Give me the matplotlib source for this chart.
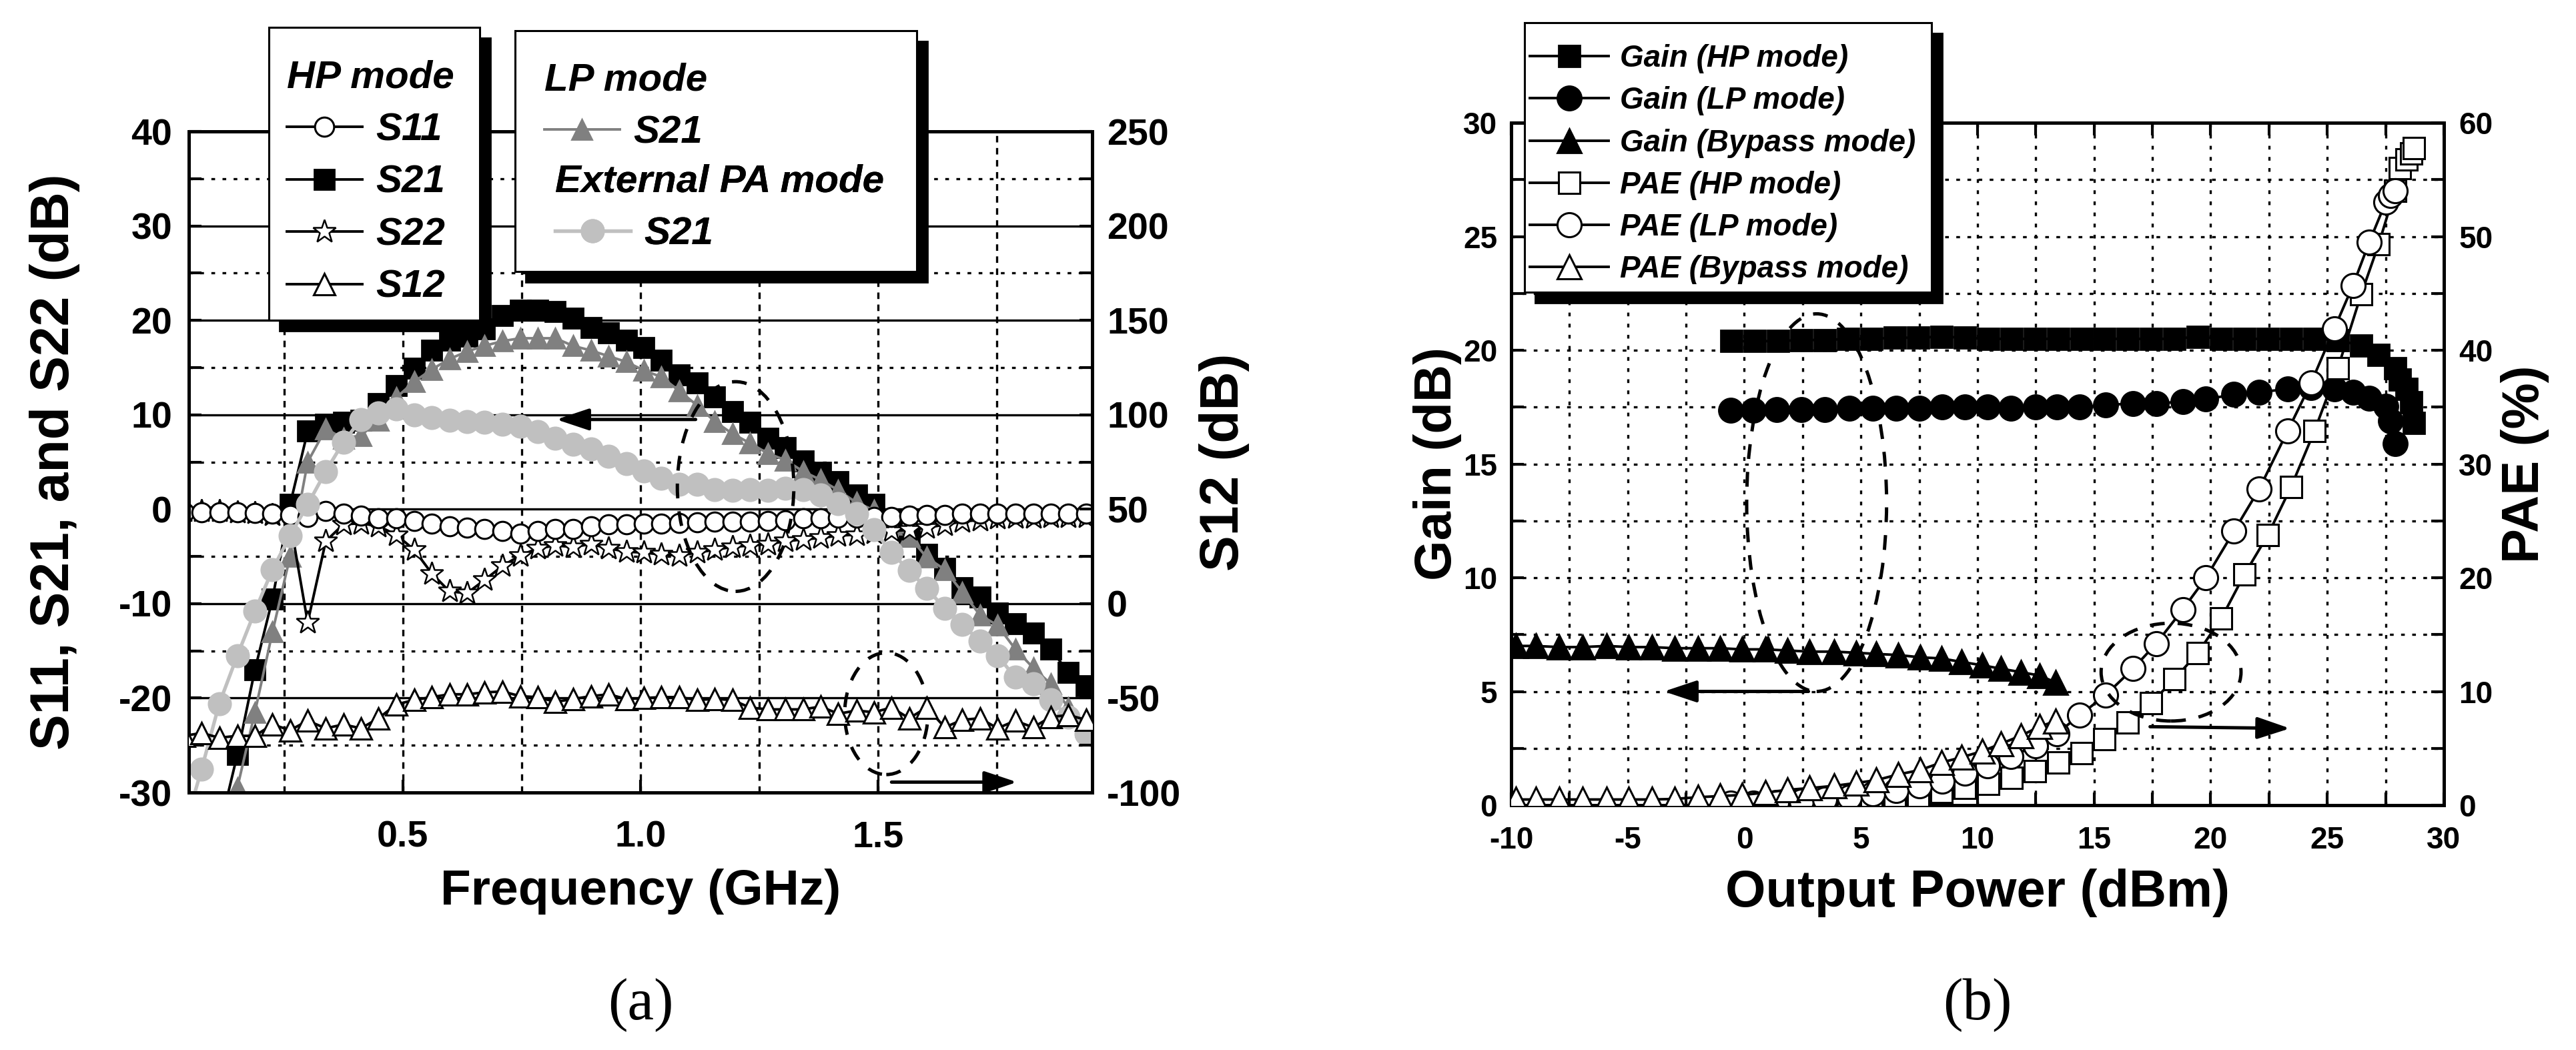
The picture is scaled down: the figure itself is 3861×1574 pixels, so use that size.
import matplotlib
matplotlib.use("Agg")
import matplotlib.pyplot as plt
from matplotlib.patches import Ellipse, Rectangle
from matplotlib.ticker import MultipleLocator, FormatStrFormatter
from matplotlib.font_manager import FontProperties

plt.rcParams['font.family'] = ['Liberation Sans', 'DejaVu Sans']
plt.rcParams['font.weight'] = 'bold'
plt.rcParams['axes.labelweight'] = 'bold'
plt.rcParams['axes.unicode_minus'] = False
plt.rcParams['lines.scale_dashes'] = False
plt.rcParams['axes.linewidth'] = 1.8

# ---------------- (a) S-parameters vs frequency ----------------
freq = [0.040, 0.077, 0.114, 0.152, 0.189, 0.226, 0.263, 0.300, 0.338, 0.375,
        0.412, 0.449, 0.486, 0.524, 0.561, 0.598, 0.635, 0.672, 0.710, 0.747,
        0.784, 0.821, 0.858, 0.896, 0.933, 0.970, 1.007, 1.044, 1.082, 1.119,
        1.156, 1.193, 1.230, 1.268, 1.305, 1.342, 1.379, 1.416, 1.454, 1.491,
        1.528, 1.565, 1.602, 1.640, 1.677, 1.714, 1.751, 1.788, 1.826, 1.863,
        1.900, 1.937]

# HP mode (dB, left axis)
hp_s11 = [-0.3, -0.3, -0.3, -0.3, -0.4, -0.5, -0.6, -0.8, -0.2, -0.5,
          -0.7, -1.0, -1.0, -1.25, -1.5, -1.8, -1.95, -2.1, -2.3, -2.6,
          -2.3, -2.1, -2.1, -1.8, -1.6, -1.6, -1.5, -1.5, -1.45, -1.4,
          -1.35, -1.3, -1.3, -1.25, -1.15, -1.0, -1.0, -0.9, -0.9, -0.8,
          -0.8, -0.7, -0.6, -0.6, -0.5, -0.5, -0.5, -0.5, -0.5, -0.5,
          -0.5, -0.5]
hp_s21 = [-42, -38, -34, -26, -17, -9.5, 0.5, 8.25, 9.0, 9.2,
          9.4, 11.2, 13.1, 14.9, 16.8, 17.9, 18.3, 19.1, 20.5, 21.1,
          21.1, 20.9, 20.2, 19.2, 18.7, 17.9, 17.1, 15.8, 14.2, 13.4,
          11.9, 10.3, 9.2, 7.5, 6.5, 5.1, 3.9, 2.9, 1.5, 0.5,
          -1.1, -2.9, -4.8, -6.3, -8.3, -9.3, -11.0, -12.1, -13.1, -14.8,
          -17.3, -18.7]
hp_s22 = [-0.2, -0.2, -0.2, -0.3, -0.4, -0.6, -1.2, -12.0, -3.4, -1.6,
          -1.5, -1.8, -2.7, -4.3, -6.8, -8.7, -8.9, -7.5, -6.0, -4.9,
          -4.15, -3.85, -4.0, -3.7, -4.15, -4.5, -4.6, -4.8, -4.9, -4.6,
          -4.3, -4.0, -3.85, -3.7, -3.4, -3.2, -3.05, -2.8, -2.7, -2.5,
          -2.3, -2.2, -1.95, -1.65, -1.3, -1.15, -1.0, -0.9, -0.9, -0.8,
          -0.8, -0.8]
# HP mode S12 (dB, right axis)
hp_s12 = [-70, -68.5, -71, -70, -70, -64, -67, -62, -66, -64,
          -66, -60.7, -53.4, -51, -49.5, -48, -48, -47, -46.5, -49,
          -49.5, -52, -50.5, -49, -48, -50.5, -50, -49.5, -49.5, -51,
          -50.5, -51, -55, -56, -56, -56, -54.5, -58.3, -56.6, -57.5,
          -55, -60.7, -55, -65.5, -61.5, -60.7, -66, -62, -65.5, -60,
          -59, -61.5]
# LP mode and external PA mode S21 (dB, left axis)
lp_s21 = [-45, -40, -37, -29.5, -21.5, -13, -5.0, 5.0, 8.5, 7.5,
          7.8, 9.4, 11.8, 13.5, 14.8, 15.9, 16.7, 17.3, 17.8, 18.1,
          18.1, 18.1, 17.3, 16.8, 16.2, 15.6, 14.7, 14.0, 12.5, 11.0,
          9.3, 8.0, 7.0, 5.9, 5.2, 4.0, 3.1, 2.0, 0.7, -0.1,
          -1.6, -2.9, -5.1, -6.4, -8.8, -11.2, -12.3, -14.8, -16.8, -18.5,
          -21.0, -23.0]
ext_s21 = [-34, -27.5, -20.6, -15.5, -10.8, -6.4, -2.8, 0.5, 4.0, 7.1,
           9.5, 10.2, 10.6, 10.0, 9.7, 9.4, 9.25, 9.2, 9.0, 8.8,
           8.2, 7.5, 6.9, 6.4, 5.6, 4.8, 4.05, 3.25, 2.6, 2.6,
           2.1, 2.0, 2.1, 2.0, 2.2, 2.1, 1.5, 0.6, -0.5, -2.2,
           -4.6, -6.5, -8.4, -10.5, -12.2, -14.0, -15.5, -17.8, -18.5, -20.2,
           -22.0, -23.8]

# ---------------- (b) Gain / PAE vs output power ----------------
hp_pout = [-0.55, 0.45, 1.45, 2.45, 3.45, 4.45, 5.45, 6.45, 7.45, 8.45,
           9.45, 10.45, 11.45, 12.45, 13.45, 14.45, 15.45, 16.45, 17.45, 18.45,
           19.45, 20.45, 21.45, 22.45, 23.45, 24.45, 25.45, 26.45, 27.2, 27.9,
           28.1, 28.4, 28.6, 28.7]
hp_gain = [20.4, 20.4, 20.4, 20.45, 20.45, 20.5, 20.5, 20.55, 20.55, 20.6,
           20.55, 20.5, 20.5, 20.5, 20.5, 20.5, 20.5, 20.5, 20.5, 20.5,
           20.6, 20.5, 20.5, 20.5, 20.5, 20.5, 20.45, 20.2, 19.8, 19.2,
           18.7, 18.3, 17.7, 16.8]
hp_pae = [0.15, 0.2, 0.25, 0.3, 0.35, 0.4, 0.5, 0.65, 0.85, 1.17,
          1.5, 1.9, 2.4, 3.0, 3.75, 4.6, 5.8, 7.3, 9.0, 11.1,
          13.4, 16.4, 20.3, 23.75, 28.0, 32.9, 38.4, 44.9, 49.3, 54.0,
          56.0, 56.8, 57.3, 57.8]

lp_pout = [-0.6, 0.4, 1.4, 2.45, 3.45, 4.5, 5.5, 6.5, 7.5, 8.47,
           9.46, 10.43, 11.43, 12.49, 13.4, 14.38, 15.5, 16.67, 17.66, 18.8,
           19.8, 21.0, 22.08, 23.3, 24.3, 25.3, 26.1, 26.8, 27.5, 27.7,
           27.9]
lp_gain = [17.35, 17.35, 17.4, 17.4, 17.4, 17.45, 17.45, 17.45, 17.45, 17.5,
           17.5, 17.5, 17.45, 17.5, 17.5, 17.5, 17.6, 17.65, 17.65, 17.75,
           17.85, 18.05, 18.15, 18.3, 18.35, 18.3, 18.15, 17.9, 17.55, 16.9,
           15.9]
lp_pae = [0.15, 0.2, 0.25, 0.35, 0.5, 0.7, 1.0, 1.3, 1.7, 2.1,
          2.8, 3.45, 4.3, 5.2, 6.3, 7.9, 9.7, 12.0, 14.2, 17.2,
          20.0, 24.1, 27.8, 32.9, 37.1, 41.9, 45.7, 49.5, 53.0, 53.6,
          54.0]

bp_pout = [-9.8, -8.95, -7.95, -6.95, -5.9, -4.95, -3.95, -3.0, -2.0, -1.05,
           -0.1, 0.9, 1.85, 2.8, 3.85, 4.8, 5.65, 6.6, 7.55, 8.45,
           9.3, 10.2, 11.0, 11.85, 12.65, 13.35]
bp_gain = [7.0, 7.0, 6.95, 6.95, 7.0, 6.95, 6.95, 6.9, 6.9, 6.9,
           6.85, 6.85, 6.8, 6.75, 6.75, 6.7, 6.65, 6.6, 6.5, 6.45,
           6.3, 6.15, 6.0, 5.85, 5.7, 5.4]
bp_pae = [0.5, 0.5, 0.5, 0.5, 0.5, 0.5, 0.5, 0.55, 0.7, 0.8,
          0.9, 1.1, 1.35, 1.5, 1.7, 1.95, 2.2, 2.7, 3.1, 3.75,
          4.2, 4.75, 5.4, 6.1, 6.9, 7.4]

GRAY = '#808080'
LIGHT = '#c0c0c0'

fig = plt.figure(figsize=(19.31, 7.87), dpi=200)

# ======================= panel (a) =======================
ax_a = fig.add_axes([0.07328, 0.24523, 0.35059, 0.62961])
ax_a2 = ax_a.twinx()

l_s21, = ax_a.plot(freq, hp_s21, color='k', lw=1.4, marker='s', ms=10.5,
                   mfc='k', mec='k', zorder=3)
l_lp, = ax_a.plot(freq, lp_s21, color=GRAY, lw=1.4, marker='^', ms=11,
                  mfc=GRAY, mec=GRAY, zorder=4)
l_s22, = ax_a.plot(freq, hp_s22, color='k', lw=1.4, marker='*', ms=13,
                   mfc='white', mec='k', mew=0.9, zorder=5)
l_s11, = ax_a.plot(freq, hp_s11, color='k', lw=1.4, marker='o', ms=10.3,
                   mfc='white', mec='k', mew=1.1, zorder=6)
l_ext, = ax_a.plot(freq, ext_s21, color=LIGHT, lw=1.9, marker='o', ms=12,
                   mfc=LIGHT, mec=LIGHT, zorder=7)
l_s12, = ax_a2.plot(freq, hp_s12, color='k', lw=1.4, marker='^', ms=11.5,
                    mfc='white', mec='k', mew=1.1, zorder=3)

ax_a.set_xlim(0.05, 1.95)
ax_a.set_ylim(-30, 40)
ax_a2.set_ylim(-100, 250)
ax_a.xaxis.set_major_locator(MultipleLocator(0.5))
ax_a.xaxis.set_minor_locator(MultipleLocator(0.25))
ax_a.xaxis.set_major_formatter(FormatStrFormatter('%.1f'))
ax_a.yaxis.set_major_locator(MultipleLocator(10))
ax_a.yaxis.set_minor_locator(MultipleLocator(5))
ax_a2.yaxis.set_major_locator(MultipleLocator(50))
ax_a2.yaxis.set_minor_locator(MultipleLocator(25))

ax_a.tick_params(which='both', direction='in', length=7, width=1.5,
                 top=True, right=False, labelsize=20)
ax_a.tick_params(axis='x', which='minor', length=0)
ax_a.tick_params(axis='x', pad=15)
ax_a.tick_params(axis='y', pad=9)
ax_a2.tick_params(which='both', direction='in', length=7, width=1.5,
                  labelsize=20, pad=8)

ax_a.set_axisbelow(True)
ax_a.yaxis.grid(True, which='major', color='k', lw=1.2, ls='-')
ax_a.yaxis.grid(True, which='minor', color='k', lw=1.2, ls=(0, (2, 4)))
ax_a.xaxis.grid(True, which='both', color='k', lw=1.2, ls=(0, (3.5, 3)))

ax_a.set_xlabel('Frequency (GHz)', fontsize=27)
ax_a.xaxis.set_label_coords(0.5, -0.115)
ax_a.set_ylabel('S11, S21, and S22 (dB)', fontsize=29)
ax_a.yaxis.set_label_coords(-0.1204, 0.5)
ax_a2.set_ylabel('S12 (dB)', fontsize=29)
ax_a2.yaxis.set_label_coords(1.118, 0.5)

# annotation: dashed ellipses and arrows
dash = (0, (8, 7))
ax_a.add_patch(Ellipse((1.2, 2.4), 0.245, 22.2, fill=False, ec='k', lw=1.8,
                       ls=dash, zorder=9))
ax_a.add_patch(Ellipse((1.517, -21.65), 0.175, 12.9, fill=False, ec='k',
                       lw=1.8, ls=dash, zorder=9))
arrow_kw = dict(arrowstyle='-|>,head_length=0.75,head_width=0.25', color='k',
                lw=1.8, mutation_scale=20, shrinkA=0, shrinkB=0)
ax_a.annotate('', xy=(0.823, 9.5), xytext=(1.116, 9.5), arrowprops=arrow_kw,
              zorder=9)
ax_a.annotate('', xy=(1.792, -28.9), xytext=(1.528, -28.9),
              arrowprops=arrow_kw, zorder=9)

# legend boxes with drop shadows
leg_font_a = FontProperties(family=['Liberation Sans', 'DejaVu Sans'],
                            weight='bold', style='italic', size=21)


def framed_box(ax, x0, y0, x1, y1, dx, dy):
    ax.add_patch(Rectangle((x0 + dx, y0 - dy), x1 - x0, y1 - y0,
                           transform=ax.transAxes, fc='k', ec='k', lw=1.0,
                           clip_on=False, zorder=10))
    ax.add_patch(Rectangle((x0, y0), x1 - x0, y1 - y0, transform=ax.transAxes,
                           fc='white', ec='k', lw=1.1, clip_on=False,
                           zorder=11))


framed_box(ax_a2, 0.0886, 0.7144, 0.3220, 1.1574, 0.0118, 0.0161)
framed_box(ax_a2, 0.3612, 0.7881, 0.8058, 1.1524, 0.0118, 0.0161)

leg_opts = dict(loc='upper left', frameon=False, prop=leg_font_a,
                title_fontproperties=leg_font_a, alignment='left',
                handlelength=1.93, handletextpad=0.36, labelspacing=0.42,
                borderpad=0, borderaxespad=0)
leg1 = ax_a2.legend([l_s11, l_s21, l_s22, l_s12], ['S11', 'S21', 'S22', 'S12'],
                    title='HP mode', bbox_to_anchor=(0.1086, 1.108), **leg_opts)
leg1.set_zorder(12)
ax_a2.add_artist(leg1)
leg2 = ax_a2.legend([l_lp], ['S21'], title='LP mode',
                    bbox_to_anchor=(0.3937, 1.104), **leg_opts)
leg2.set_zorder(12)
ax_a2.add_artist(leg2)
leg3 = ax_a2.legend([l_ext], ['S21'], title='External PA mode',
                    bbox_to_anchor=(0.4055, 0.9506), **leg_opts)
leg3.set_zorder(12)
ax_a2.add_artist(leg3)

# ======================= panel (b) =======================
ax_b = fig.add_axes([0.58648, 0.23316, 0.36199, 0.64994])
ax_b2 = ax_b.twinx()

g_hp, = ax_b.plot(hp_pout, hp_gain, color='k', lw=1.4, marker='s', ms=11.5,
                  mfc='k', mec='k', zorder=3)
g_lp, = ax_b.plot(lp_pout, lp_gain, color='k', lw=1.4, marker='o', ms=13,
                  mfc='k', mec='k', zorder=3)
g_bp, = ax_b.plot(bp_pout, bp_gain, color='k', lw=1.4, marker='^', ms=13,
                  mfc='k', mec='k', zorder=3)
p_hp, = ax_b2.plot(hp_pout, hp_pae, color='k', lw=1.4, marker='s', ms=11.5,
                   mfc='white', mec='k', mew=1.1, zorder=3)
p_lp, = ax_b2.plot(lp_pout, lp_pae, color='k', lw=1.4, marker='o', ms=13,
                   mfc='white', mec='k', mew=1.1, zorder=4)
p_bp, = ax_b2.plot(bp_pout, bp_pae, color='k', lw=1.4, marker='^', ms=13,
                   mfc='white', mec='k', mew=1.1, zorder=5)

ax_b.set_xlim(-10, 30)
ax_b.set_ylim(0, 30)
ax_b2.set_ylim(0, 60)
ax_b.xaxis.set_major_locator(MultipleLocator(5))
ax_b.xaxis.set_minor_locator(MultipleLocator(2.5))
ax_b.yaxis.set_major_locator(MultipleLocator(5))
ax_b.yaxis.set_minor_locator(MultipleLocator(2.5))
ax_b2.yaxis.set_major_locator(MultipleLocator(10))
ax_b2.yaxis.set_minor_locator(MultipleLocator(5))

ax_b.tick_params(which='both', direction='in', length=7, width=1.5,
                 top=True, right=False, labelsize=16.5)
ax_b.tick_params(axis='x', pad=11)
ax_b.tick_params(axis='y', pad=7.5)
ax_b2.tick_params(which='both', direction='in', length=7, width=1.5,
                  labelsize=16.5, pad=8)

ax_b.set_axisbelow(True)
ax_b.grid(True, which='both', color='k', lw=1.2, ls=(0, (2, 4)))

ax_b.set_xlabel('Output Power (dBm)', fontsize=28)
ax_b.xaxis.set_label_coords(0.5, -0.093)
ax_b.set_ylabel('Gain (dB)', fontsize=28)
ax_b.yaxis.set_label_coords(-0.053, 0.5)
ax_b2.set_ylabel('PAE (%)', fontsize=28)
ax_b2.yaxis.set_label_coords(1.061, 0.5)

ax_b.add_patch(Ellipse((3.1, 13.3), 6.0, 16.6, fill=False, ec='k', lw=1.8,
                       ls=dash, zorder=9))
ax_b.annotate('', xy=(-3.45, 5.0), xytext=(2.75, 5.0), arrowprops=arrow_kw,
              zorder=9)
ax_b2.add_patch(Ellipse((18.3, 11.7), 6.0, 8.6, fill=False, ec='k', lw=1.8,
                        ls=dash, zorder=9))
ax_b2.annotate('', xy=(23.4, 6.75), xytext=(17.4, 6.9), arrowprops=arrow_kw,
               zorder=9)

leg_font_b = FontProperties(family=['Liberation Sans', 'DejaVu Sans'],
                            weight='bold', style='italic', size=16.5)
framed_box(ax_b2, 0.0143, 0.7517, 0.4506, 1.1466, 0.01145, 0.01564)
leg_b = ax_b2.legend([g_hp, g_lp, g_bp, p_hp, p_lp, p_bp],
                     ['Gain (HP mode)', 'Gain (LP mode)', 'Gain (Bypass mode)',
                      'PAE (HP mode)', 'PAE (LP mode)', 'PAE (Bypass mode)'],
                     loc='upper left', bbox_to_anchor=(0.020, 1.1153),
                     frameon=False, prop=leg_font_b, handlelength=2.57,
                     handletextpad=0.37, labelspacing=0.42, borderpad=0,
                     borderaxespad=0)
leg_b.set_zorder(12)

# captions
fig.text(0.2486, 0.043, '(a)', ha='center', va='center',
         family=['Liberation Serif', 'DejaVu Serif'], weight='normal',
         fontsize=32)
fig.text(0.7675, 0.043, '(b)', ha='center', va='center',
         family=['Liberation Serif', 'DejaVu Serif'], weight='normal',
         fontsize=32)

fig.savefig('out.png', dpi=200)
